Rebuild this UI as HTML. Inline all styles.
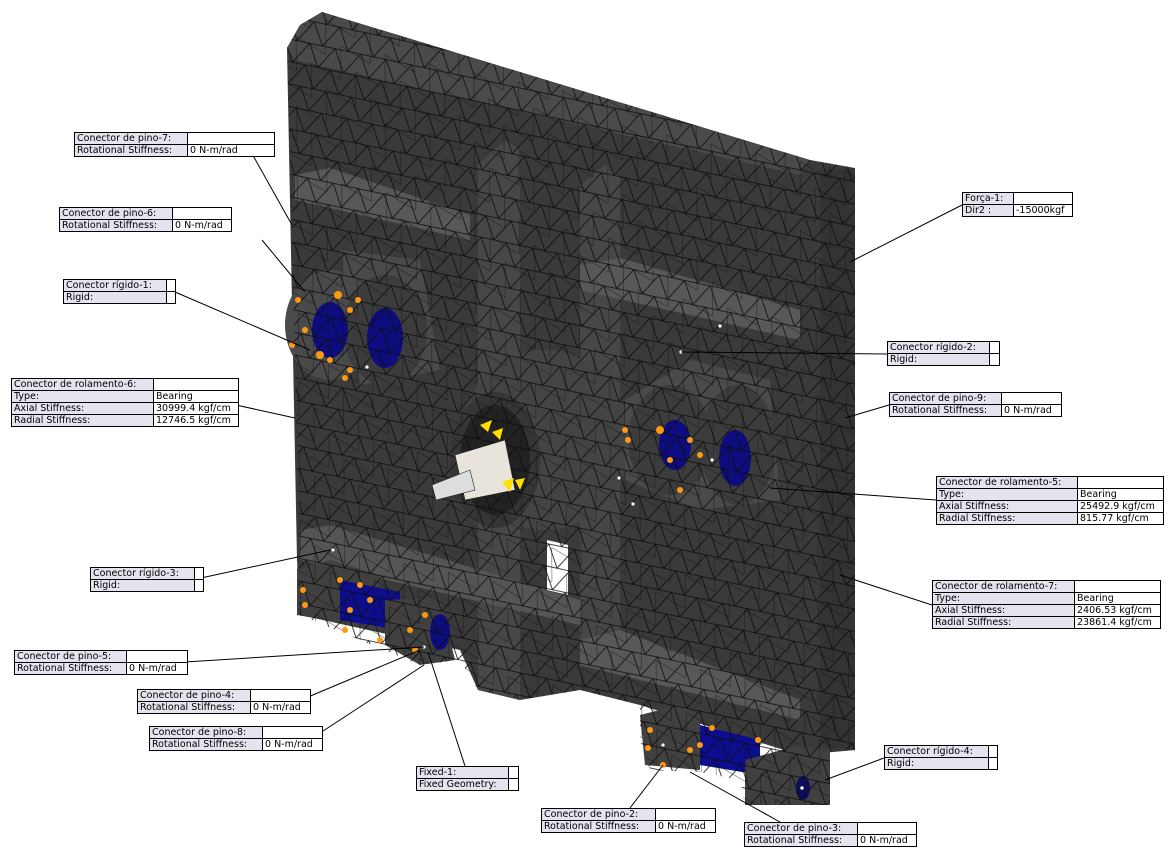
<!DOCTYPE html>
<html><head><meta charset="utf-8"><style>
body{margin:0;width:1171px;height:861px;background:#fff;position:relative;overflow:hidden;font-family:"DejaVu Sans","Liberation Sans",sans-serif;}
svg{position:absolute;left:0;top:0}
table.l{position:absolute;border-collapse:collapse;font-size:9.5px;line-height:11px;}
table.l td{border:1px solid #000;padding:0 2px;height:11px;white-space:nowrap;background:#fff;color:#000}
table.l td.k{background:#e4e4ee}
.t{color:#1a1aa8}.r{color:#c00000}.g{color:#107010}
</style></head><body>
<svg width="1171" height="861" viewBox="0 0 1171 861">
<defs>
<pattern id="mesh" width="26" height="22" patternUnits="userSpaceOnUse" patternTransform="rotate(12)">
<path d="M0 0L26 0M0 0L13 22M26 0L13 22M0 22L26 22" stroke="#0c0c0c" stroke-width="0.8" fill="none"/>
</pattern>
<pattern id="mesh2" width="34" height="30" patternUnits="userSpaceOnUse" patternTransform="rotate(-30)">
<path d="M0 0L17 30M34 0L17 30" stroke="#0c0c0c" stroke-width="0.6" fill="none"/>
</pattern>
<clipPath id="cp">
<polygon points="287,48 300,25 322,12 810,160 855,168 855,750 830,752 830,805 745,805 740,780 700,772 650,770 640,740 640,705 580,690 520,700 478,690 460,660 420,665 300,615 297,570 300,555"/>
</clipPath>
</defs>
<g>
<!-- plate -->
<polygon points="287,48 300,25 322,12 810,160 855,168 855,750 800,755 640,705 580,690 520,700 478,690 460,650 300,615 297,560" fill="#3a3a3a"/>
<polygon points="287,48 300,25 322,12 810,160 800,175 295,60" fill="#4a4a4a"/>
<polygon points="820,170 855,168 855,750 820,745" fill="#333"/>
<!-- upper left shelf -->
<polygon points="295,175 330,168 470,215 470,240 295,200" fill="#585858"/>
<!-- ribs -->
<polygon points="478,165 505,140 520,150 520,700 478,690" fill="#474747"/>
<polygon points="580,185 605,165 620,175 620,650 580,640" fill="#474747"/>
<!-- right shelf -->
<polygon points="580,265 620,258 800,310 800,340 580,290" fill="#585858"/>
<!-- bottom bars -->
<polygon points="300,530 330,525 580,600 580,625 300,560" fill="#555"/>
<polygon points="580,640 620,630 800,700 800,720 580,665" fill="#585858"/>
<!-- cylinder -->
<ellipse cx="545" cy="440" rx="85" ry="90" fill="#444"/>
<ellipse cx="495" cy="460" rx="45" ry="68" fill="#353535"/>
<ellipse cx="495" cy="460" rx="35" ry="55" fill="#222"/>
<!-- white hole -->
<polygon points="547,540 568,545 568,595 547,590" fill="#fff"/>
<!-- left blocks -->
<ellipse cx="330" cy="325" rx="45" ry="55" fill="#4a4a4a"/>
<polygon points="340,250 420,260 440,370 360,385" fill="#4a4a4a"/>
<ellipse cx="385" cy="330" rx="42" ry="55" fill="#3c3c3c"/>
<ellipse cx="385" cy="338" rx="18" ry="30" fill="#0d0d80"/>
<ellipse cx="330" cy="330" rx="18" ry="28" fill="#0d0d80"/>
<!-- right blocks -->
<polygon points="625,400 690,360 770,380 780,500 700,510 625,480" fill="#4a4a4a"/>
<ellipse cx="670" cy="440" rx="42" ry="55" fill="#3c3c3c"/>
<ellipse cx="738" cy="445" rx="38" ry="60" fill="#3c3c3c"/>
<ellipse cx="735" cy="458" rx="16" ry="28" fill="#0d0d80"/>
<ellipse cx="675" cy="445" rx="16" ry="25" fill="#0d0d80"/>
<!-- bottom left blocks -->
<polygon points="297,570 330,560 380,575 380,630 297,615" fill="#404040"/>
<polygon points="340,580 400,592 400,630 340,620" fill="#0d0d90"/>
<polygon points="385,600 440,598 455,660 420,665 385,645" fill="#404040"/>
<ellipse cx="440" cy="632" rx="10" ry="18" fill="#0d0d80"/>
<!-- bottom right blocks -->
<polygon points="640,715 680,705 700,715 700,770 645,765" fill="#404040"/>
<polygon points="700,725 760,740 760,775 700,765" fill="#0d0d90"/>
<polygon points="745,760 800,745 830,752 830,805 745,805" fill="#404040"/>
<ellipse cx="803" cy="788" rx="7" ry="12" fill="#0d0d60"/>
<!-- mesh overlay -->
<g clip-path="url(#cp)">
<rect x="280" y="0" width="600" height="820" fill="url(#mesh)"/>
<rect x="280" y="0" width="600" height="820" fill="url(#mesh2)" opacity="0.6"/>
</g>
<!-- shaft -->
<polygon points="455,455 505,440 515,490 465,500" fill="#e8e4dc" stroke="#222" stroke-width="0.6"/>
<polygon points="432,485 470,470 475,490 436,500" fill="#ddd" stroke="#222" stroke-width="0.6"/>
<g fill="#ffe000"><polygon points="480,425 492,420 488,432"/><polygon points="492,432 503,428 500,440"/><polygon points="502,482 514,478 510,492"/><polygon points="515,480 525,478 520,490"/></g>
<!-- orange dots -->
<g fill="#ff9a10">
<circle cx="298" cy="300" r="3"/><circle cx="305" cy="330" r="3"/><circle cx="292" cy="345" r="3"/><circle cx="320" cy="355" r="4"/><circle cx="330" cy="360" r="3"/><circle cx="350" cy="370" r="3"/><circle cx="338" cy="295" r="4"/><circle cx="350" cy="310" r="3"/><circle cx="345" cy="378" r="3"/><circle cx="358" cy="300" r="3"/>
<circle cx="625" cy="430" r="3"/><circle cx="628" cy="440" r="3"/><circle cx="660" cy="430" r="4"/><circle cx="670" cy="460" r="3"/><circle cx="680" cy="490" r="3"/><circle cx="700" cy="455" r="3"/><circle cx="690" cy="440" r="3"/>
<circle cx="303" cy="590" r="3"/><circle cx="305" cy="605" r="3"/><circle cx="340" cy="580" r="3"/><circle cx="350" cy="610" r="3"/><circle cx="370" cy="600" r="3"/><circle cx="345" cy="630" r="3"/><circle cx="380" cy="640" r="3"/><circle cx="410" cy="630" r="3"/><circle cx="415" cy="650" r="3"/><circle cx="425" cy="615" r="3"/><circle cx="360" cy="585" r="3"/>
<circle cx="650" cy="730" r="3"/><circle cx="648" cy="748" r="3"/><circle cx="690" cy="750" r="3"/><circle cx="712" cy="728" r="3"/><circle cx="700" cy="745" r="3"/><circle cx="758" cy="740" r="3"/><circle cx="663" cy="765" r="3"/>
</g>
<g fill="#fff" stroke="#222" stroke-width="0.5">
<circle cx="367" cy="367" r="2"/><circle cx="720" cy="326" r="2"/><circle cx="681" cy="352" r="2"/><circle cx="712" cy="460" r="2"/><circle cx="619" cy="478" r="2"/><circle cx="633" cy="504" r="2"/><circle cx="333" cy="550" r="2"/><circle cx="424" cy="647" r="2"/><circle cx="663" cy="745" r="2"/><circle cx="802" cy="788" r="2"/>
</g>
<!-- leader lines -->
<g stroke="#000" stroke-width="1" fill="none">
<line x1="246" y1="143" x2="292" y2="225"/>
<line x1="262" y1="240" x2="305" y2="292"/>
<line x1="175" y1="292" x2="310" y2="350"/>
<line x1="236" y1="405" x2="295" y2="418"/>
<line x1="962" y1="205" x2="850" y2="262"/>
<line x1="887" y1="354" x2="681" y2="352"/>
<line x1="889" y1="405" x2="845" y2="418"/>
<line x1="936" y1="500" x2="770" y2="488"/>
<line x1="932" y1="605" x2="840" y2="575"/>
<line x1="201" y1="578" x2="330" y2="550"/>
<line x1="185" y1="662" x2="424" y2="647"/>
<line x1="308" y1="697" x2="420" y2="650"/>
<line x1="320" y1="733" x2="424" y2="665"/>
<line x1="465" y1="766" x2="428" y2="652"/>
<line x1="884" y1="758" x2="825" y2="780"/>
<line x1="630" y1="808" x2="663" y2="765"/>
<line x1="780" y1="822" x2="690" y2="772"/>
</g>
</g>
</svg>

<table class="l" style="left:74px;top:132px"><tr><td class="k t" style="width:108px">Conector de pino-7:</td><td style="width:82px"></td></tr><tr><td class="k">Rotational Stiffness:</td><td>0 N-m/rad</td></tr></table>
<table class="l" style="left:59px;top:207px"><tr><td class="k t" style="width:108px">Conector de pino-6:</td><td style="width:54px"></td></tr><tr><td class="k">Rotational Stiffness:</td><td>0 N-m/rad</td></tr></table>
<table class="l" style="left:63px;top:279px"><tr><td class="k t" style="width:98px">Conector rígido-1:</td><td style="width:4px"></td></tr><tr><td class="k">Rigid:</td><td></td></tr></table>
<table class="l" style="left:11px;top:378px"><tr><td class="k t" style="width:137px">Conector de rolamento-6:</td><td style="width:80px"></td></tr><tr><td class="k">Type:</td><td>Bearing</td></tr><tr><td class="k">Axial Stiffness:</td><td>30999.4 kgf/cm</td></tr><tr><td class="k">Radial Stiffness:</td><td>12746.5 kgf/cm</td></tr></table>
<table class="l" style="left:962px;top:192px"><tr><td class="k r" style="width:46px">Força-1:</td><td style="width:54px"></td></tr><tr><td class="k">Dir2 :</td><td>-15000kgf</td></tr></table>
<table class="l" style="left:887px;top:341px"><tr><td class="k t" style="width:97px">Conector rígido-2:</td><td style="width:5px"></td></tr><tr><td class="k">Rigid:</td><td></td></tr></table>
<table class="l" style="left:889px;top:392px"><tr><td class="k t" style="width:107px">Conector de pino-9:</td><td style="width:55px"></td></tr><tr><td class="k">Rotational Stiffness:</td><td>0 N-m/rad</td></tr></table>
<table class="l" style="left:936px;top:476px"><tr><td class="k t" style="width:136px">Conector de rolamento-5:</td><td style="width:81px"></td></tr><tr><td class="k">Type:</td><td>Bearing</td></tr><tr><td class="k">Axial Stiffness:</td><td>25492.9 kgf/cm</td></tr><tr><td class="k">Radial Stiffness:</td><td>815.77 kgf/cm</td></tr></table>
<table class="l" style="left:90px;top:567px"><tr><td class="k t" style="width:99px">Conector rígido-3:</td><td style="width:4px"></td></tr><tr><td class="k">Rigid:</td><td></td></tr></table>
<table class="l" style="left:932px;top:580px"><tr><td class="k t" style="width:137px">Conector de rolamento-7:</td><td style="width:81px"></td></tr><tr><td class="k">Type:</td><td>Bearing</td></tr><tr><td class="k">Axial Stiffness:</td><td>2406.53 kgf/cm</td></tr><tr><td class="k">Radial Stiffness:</td><td>23861.4 kgf/cm</td></tr></table>
<table class="l" style="left:14px;top:650px"><tr><td class="k t" style="width:107px">Conector de pino-5:</td><td style="width:56px"></td></tr><tr><td class="k">Rotational Stiffness:</td><td>0 N-m/rad</td></tr></table>
<table class="l" style="left:137px;top:689px"><tr><td class="k t" style="width:108px">Conector de pino-4:</td><td style="width:55px"></td></tr><tr><td class="k">Rotational Stiffness:</td><td>0 N-m/rad</td></tr></table>
<table class="l" style="left:149px;top:726px"><tr><td class="k t" style="width:108px">Conector de pino-8:</td><td style="width:55px"></td></tr><tr><td class="k">Rotational Stiffness:</td><td>0 N-m/rad</td></tr></table>
<table class="l" style="left:884px;top:745px"><tr><td class="k t" style="width:99px">Conector rígido-4:</td><td style="width:4px"></td></tr><tr><td class="k">Rigid:</td><td></td></tr></table>
<table class="l" style="left:416px;top:766px"><tr><td class="k g" style="width:87px">Fixed-1:</td><td style="width:5px"></td></tr><tr><td class="k">Fixed Geometry:</td><td></td></tr></table>
<table class="l" style="left:541px;top:808px"><tr><td class="k t" style="width:109px">Conector de pino-2:</td><td style="width:55px"></td></tr><tr><td class="k">Rotational Stiffness:</td><td>0 N-m/rad</td></tr></table>
<table class="l" style="left:744px;top:822px"><tr><td class="k t" style="width:108px">Conector de pino-3:</td><td style="width:54px"></td></tr><tr><td class="k">Rotational Stiffness:</td><td>0 N-m/rad</td></tr></table>
</body></html>
